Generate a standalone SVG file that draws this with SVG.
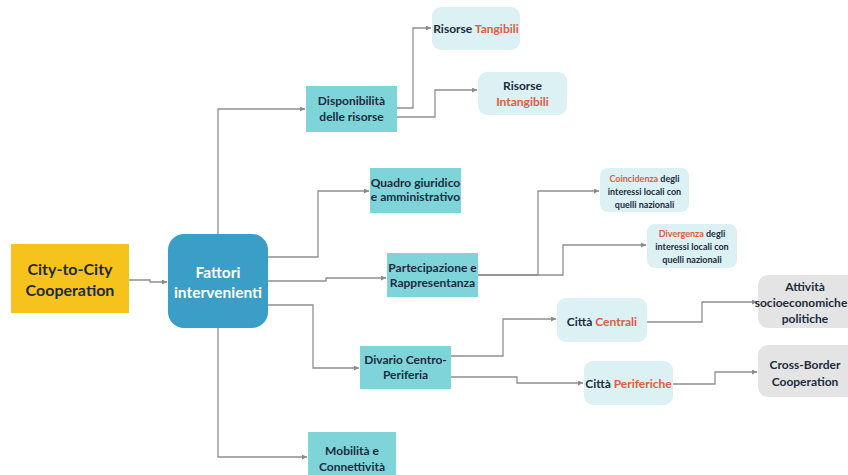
<svg xmlns="http://www.w3.org/2000/svg" width="848" height="475" viewBox="0 0 848 475">
<defs>
<marker id="arr" viewBox="0 0 6 6" refX="6" refY="3" markerWidth="5" markerHeight="5" orient="auto" markerUnits="userSpaceOnUse">
<path d="M0,0 L6,3 L0,6 z" fill="#8a8a8a"/>
</marker>
<style>
.t{font-family:Lato,"Open Sans","Liberation Sans",sans-serif;font-weight:bold;fill:#1c2b3c;text-anchor:middle}
.r{fill:#e25a3f}
.teal{fill:#7fd4da}
.light{fill:#dbf1f3}
.gray{fill:#e4e4e4}
.c{fill:none;stroke:#8f8f8f;stroke-width:1.3}
</style>
</defs>
<rect width="848" height="475" fill="#ffffff"/>
<g id="connectors">
<path class="c" d="M129,280 H150 V282 H167" marker-end="url(#arr)"/>
<path class="c" d="M218,234 V109 H305" marker-end="url(#arr)"/>
<path class="c" d="M268,257 H318 V191 H369" marker-end="url(#arr)"/>
<path class="c" d="M268,281 H326 V278 H386" marker-end="url(#arr)"/>
<path class="c" d="M268,305 H313 V368 H359" marker-end="url(#arr)"/>
<path class="c" d="M218,328 V457 H307" marker-end="url(#arr)"/>
<path class="c" d="M397,108 H413 V28 H431" marker-end="url(#arr)"/>
<path class="c" d="M397,117 H435 V90 H477" marker-end="url(#arr)"/>
<path class="c" d="M478,275 H538 V191 H599" marker-end="url(#arr)"/>
<path class="c" d="M478,275 H563 V245 H646" marker-end="url(#arr)"/>
<path class="c" d="M451,356 H503 V319 H556" marker-end="url(#arr)"/>
<path class="c" d="M451,377 H517 V383 H583" marker-end="url(#arr)"/>
<path class="c" d="M647,322 H702 V302 H757" marker-end="url(#arr)"/>
<path class="c" d="M673,384 H715 V372 H757" marker-end="url(#arr)"/>
</g>
<g id="city">
<rect x="11" y="244" width="118" height="69" fill="#f6c21c"/>
<text class="t" x="70" y="275" font-size="16">City-to-City</text>
<text class="t" x="70" y="296" font-size="16">Cooperation</text>
</g>
<g id="fattori">
<rect x="168" y="234" width="100" height="94" rx="16" fill="#3a9ec7"/>
<text class="t" x="218" y="278" font-size="15.5" style="fill:#ffffff">Fattori</text>
<text class="t" x="218" y="298" font-size="15.5" style="fill:#ffffff">intervenienti</text>
</g>
<g id="disponibilita">
<rect class="teal" x="306" y="86" width="91" height="46"/>
<text class="t" x="351.5" y="105" font-size="12">Disponibilità</text>
<text class="t" x="351.5" y="121" font-size="12">delle risorse</text>
</g>
<g id="tangibili">
<rect class="light" x="432" y="7" width="88" height="43" rx="9"/>
<text class="t" x="476" y="33" font-size="12">Risorse <tspan class="r">Tangibili</tspan></text>
</g>
<g id="intangibili">
<rect class="light" x="478" y="72" width="89" height="43" rx="9"/>
<text class="t" x="522.5" y="90" font-size="12">Risorse</text>
<text class="t r" x="522.5" y="106" font-size="12">Intangibili</text>
</g>
<g id="quadro">
<rect class="teal" x="370" y="168" width="91" height="45"/>
<text class="t" x="415.5" y="187" font-size="12">Quadro giuridico</text>
<text class="t" x="415.5" y="201" font-size="12">e amministrativo</text>
</g>
<g id="partecipazione">
<rect class="teal" x="387" y="253" width="91" height="44"/>
<text class="t" x="432.5" y="272" font-size="12">Partecipazione e</text>
<text class="t" x="432.5" y="287" font-size="12">Rappresentanza</text>
</g>
<g id="coincidenza">
<rect class="light" x="600" y="168" width="89" height="44" rx="8"/>
<text class="t" x="644.5" y="182" font-size="9"><tspan class="r">Coincidenza</tspan> degli</text>
<text class="t" x="644.5" y="195" font-size="9">interessi locali con</text>
<text class="t" x="644.5" y="208" font-size="9">quelli nazionali</text>
</g>
<g id="divergenza">
<rect class="light" x="647" y="224" width="90" height="44" rx="8"/>
<text class="t" x="692" y="237" font-size="9"><tspan class="r">Divergenza</tspan> degli</text>
<text class="t" x="692" y="250" font-size="9">interessi locali con</text>
<text class="t" x="692" y="263" font-size="9">quelli nazionali</text>
</g>
<g id="divario">
<rect class="teal" x="360" y="346" width="91" height="43"/>
<text class="t" x="405.5" y="364" font-size="12">Divario Centro-</text>
<text class="t" x="405.5" y="379" font-size="12">Periferia</text>
</g>
<g id="mobilita">
<rect class="teal" x="308" y="432" width="88" height="48"/>
<text class="t" x="352" y="455" font-size="12">Mobilità e</text>
<text class="t" x="352" y="471" font-size="12">Connettività</text>
</g>
<g id="centrali">
<rect class="light" x="557" y="298" width="90" height="44" rx="9"/>
<text class="t" x="602" y="326" font-size="12">Città <tspan class="r">Centrali</tspan></text>
</g>
<g id="periferiche">
<rect class="light" x="584" y="361" width="89" height="44" rx="9"/>
<text class="t" x="628.5" y="388" font-size="12">Città <tspan class="r">Periferiche</tspan></text>
</g>
<g id="attivita">
<rect class="gray" x="758" y="275" width="100" height="53" rx="10"/>
<text class="t" x="805" y="291" font-size="12">Attività</text>
<text class="t" x="801" y="307" font-size="12">socioeconomiche</text>
<text class="t" x="805" y="323" font-size="12">politiche</text>
</g>
<g id="crossborder">
<rect class="gray" x="758" y="345" width="100" height="52" rx="10"/>
<text class="t" x="805" y="369" font-size="12">Cross-Border</text>
<text class="t" x="805" y="386" font-size="12">Cooperation</text>
</g>
</svg>
